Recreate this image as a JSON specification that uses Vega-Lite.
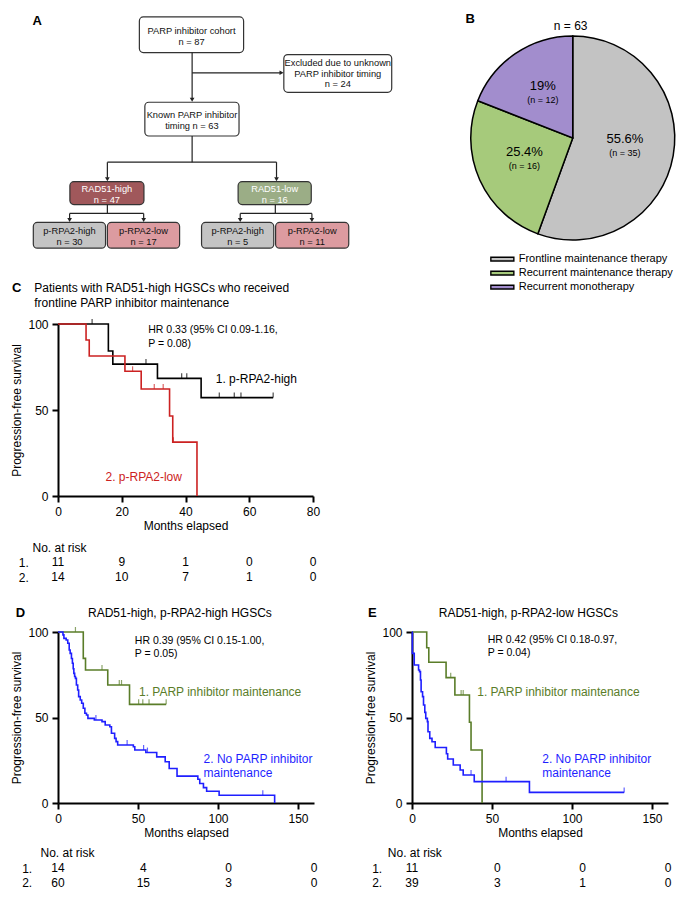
{
"$schema": "https://vega.github.io/schema/vega-lite/v6.json",
"autosize": {"type": "none"},
"padding": {"left": 58, "top": 0, "right": 636, "bottom": 900},
"background": "white",
"config": {
 "font": "Liberation Sans",
 "view": {"stroke": null},
 "axis": {"domainColor": "#000", "domainWidth": 2, "tickColor": "#000", "tickWidth": 2, "tickSize": 6, "labelFontSize": 12, "labelColor": "#000", "labelPadding": 4, "titleFontSize": 12, "titleFontWeight": "normal", "titleColor": "#000", "grid": false, "labelFont": "Liberation Sans", "titleFont": "Liberation Sans"},
 "legend": {"labelFont": "Liberation Sans"},
 "text": {"font": "Liberation Sans", "color": "#000"}
},
"resolve": {"scale": {"color": "independent", "fill": "independent", "shape": "independent"}, "legend": {"color": "independent", "fill": "independent", "shape": "independent"}},
"datasets": {
 "boxes": [
  {"kind": "plain", "x1": 129, "x2": 243, "y1": 17, "y2": 53, "cx": 186, "cy": 31.5, "label": "PARP inhibitor cohort\nn = 87"},
  {"kind": "plain", "x1": 287, "x2": 405, "y1": 55, "y2": 93, "cx": 346, "cy": 63.7, "label": "Excluded due to unknown\nPARP inhibitor timing\nn = 24"},
  {"kind": "plain", "x1": 135, "x2": 238, "y1": 103, "y2": 137, "cx": 186.5, "cy": 116.3, "label": "Known PARP inhibitor\ntiming n = 63"},
  {"kind": "rad51high", "x1": 53, "x2": 134, "y1": 183, "y2": 206, "cx": 93.5, "cy": 190.5, "label": "RAD51-high\nn = 47"},
  {"kind": "rad51low", "x1": 237, "x2": 317, "y1": 183, "y2": 206, "cx": 277, "cy": 190.5, "label": "RAD51-low\nn = 16"},
  {"kind": "rpahigh", "x1": 13, "x2": 92, "y1": 224, "y2": 250, "cx": 52.5, "cy": 232.8, "label": "p-RPA2-high\nn = 30"},
  {"kind": "rpalow", "x1": 94, "x2": 173, "y1": 224, "y2": 250, "cx": 133.5, "cy": 232.8, "label": "p-RPA2-low\nn = 17"},
  {"kind": "rpahigh", "x1": 197, "x2": 276, "y1": 224, "y2": 250, "cx": 236.5, "cy": 232.8, "label": "p-RPA2-high\nn = 5"},
  {"kind": "rpalow", "x1": 278, "x2": 358, "y1": 224, "y2": 250, "cx": 318, "cy": 232.8, "label": "p-RPA2-low\nn = 11"}
 ],
 "segs": [
  {"x": 186.7, "y": 53, "x2": 186.7, "y2": 99},
  {"x": 186.7, "y": 73.3, "x2": 283, "y2": 73.3},
  {"x": 186.7, "y": 137, "x2": 186.7, "y2": 163.3},
  {"x": 94, "y": 163.3, "x2": 279, "y2": 163.3},
  {"x": 94, "y": 163.3, "x2": 94, "y2": 179},
  {"x": 279, "y": 163.3, "x2": 279, "y2": 179},
  {"x": 94, "y": 206, "x2": 94, "y2": 215},
  {"x": 52.7, "y": 215, "x2": 133.7, "y2": 215},
  {"x": 52.7, "y": 215, "x2": 52.7, "y2": 220.5},
  {"x": 133.7, "y": 215, "x2": 133.7, "y2": 220.5},
  {"x": 277.7, "y": 206, "x2": 277.7, "y2": 215},
  {"x": 239.3, "y": 215, "x2": 317.7, "y2": 215},
  {"x": 239.3, "y": 215, "x2": 239.3, "y2": 220.5},
  {"x": 317.7, "y": 215, "x2": 317.7, "y2": 220.5}
 ],
 "heads": [
  {"x": 186.7, "y": 100.5, "dir": "down"},
  {"x": 284.5, "y": 73.3, "dir": "right"},
  {"x": 94, "y": 180.5, "dir": "down"},
  {"x": 279, "y": 180.5, "dir": "down"},
  {"x": 52.7, "y": 221.5, "dir": "down"},
  {"x": 133.7, "y": 221.5, "dir": "down"},
  {"x": 239.3, "y": 221.5, "dir": "down"},
  {"x": 317.7, "y": 221.5, "dir": "down"}
 ],
 "pie": [
  {"cat": "Frontline maintenance therapy", "n": 35, "ord": 1, "pct": "55.6%", "nl": "(n = 35)"},
  {"cat": "Recurrent maintenance therapy", "n": 16, "ord": 2, "pct": "25.4%", "nl": "(n = 16)"},
  {"cat": "Recurrent monotherapy", "n": 12, "ord": 3, "pct": "19%", "nl": "(n = 12)"}
 ],
 "curvesC": [
  {"g": "1", "t": 0, "s": 100}, {"g": "1", "t": 15.8, "s": 84.3}, {"g": "1", "t": 17.2, "s": 76.7}, {"g": "1", "t": 31.2, "s": 68.4}, {"g": "1", "t": 44.9, "s": 57.2}, {"g": "1", "t": 67.5, "s": 57.2},
  {"g": "2", "t": 0, "s": 100}, {"g": "2", "t": 8.8, "s": 90.7}, {"g": "2", "t": 9.8, "s": 81.4}, {"g": "2", "t": 21.0, "s": 72.5}, {"g": "2", "t": 26.1, "s": 62.2}, {"g": "2", "t": 35.0, "s": 46.5}, {"g": "2", "t": 36.0, "s": 31.3}, {"g": "2", "t": 43.6, "s": 0}
 ],
 "censC": [
  {"g": "1", "t": 10.7, "s": 100}, {"g": "1", "t": 27.6, "s": 76.7}, {"g": "1", "t": 38.8, "s": 68.4}, {"g": "1", "t": 40.4, "s": 68.4}, {"g": "1", "t": 50.6, "s": 57.2}, {"g": "1", "t": 55.3, "s": 57.2}, {"g": "1", "t": 57.4, "s": 57.2}, {"g": "1", "t": 67.5, "s": 57.2},
  {"g": "2", "t": 23.4, "s": 72.5}, {"g": "2", "t": 30.2, "s": 62.2}, {"g": "2", "t": 33.0, "s": 62.2}, {"g": "2", "t": 36.2, "s": 31.3}
 ],
 "riskC": [
  {"g": "1.", "t": 0, "n": "11"}, {"g": "1.", "t": 20, "n": "9"}, {"g": "1.", "t": 40, "n": "1"}, {"g": "1.", "t": 60, "n": "0"}, {"g": "1.", "t": 80, "n": "0"},
  {"g": "2.", "t": 0, "n": "14"}, {"g": "2.", "t": 20, "n": "10"}, {"g": "2.", "t": 40, "n": "7"}, {"g": "2.", "t": 60, "n": "1"}, {"g": "2.", "t": 80, "n": "0"}
 ],
 "curvesD": [
  {"g": "1", "t": 0, "s": 100}, {"g": "1", "t": 15.8, "s": 84.6}, {"g": "1", "t": 17.2, "s": 77.8}, {"g": "1", "t": 31.1, "s": 69}, {"g": "1", "t": 44.7, "s": 57.7}, {"g": "1", "t": 67.6, "s": 57.7},
  {"g": "2", "t": 0, "s": 100}, {"g": "2", "t": 3.1, "s": 98.3}, {"g": "2", "t": 3.7, "s": 96.3}, {"g": "2", "t": 5.1, "s": 95.3}, {"g": "2", "t": 6.1, "s": 93.4}, {"g": "2", "t": 7, "s": 89.5}, {"g": "2", "t": 7.6, "s": 87.5}, {"g": "2", "t": 8.4, "s": 84.5}, {"g": "2", "t": 9, "s": 81.7}, {"g": "2", "t": 9.5, "s": 78.5}, {"g": "2", "t": 9.9, "s": 75.8}, {"g": "2", "t": 10.4, "s": 74}, {"g": "2", "t": 10.9, "s": 72.9}, {"g": "2", "t": 11.5, "s": 69}, {"g": "2", "t": 12.3, "s": 66.1}, {"g": "2", "t": 12.9, "s": 62.2}, {"g": "2", "t": 13.9, "s": 60.2}, {"g": "2", "t": 14.8, "s": 58.3}, {"g": "2", "t": 15.8, "s": 55.4}, {"g": "2", "t": 16.8, "s": 52.5}, {"g": "2", "t": 17.8, "s": 51.5}, {"g": "2", "t": 18.7, "s": 49.5}, {"g": "2", "t": 22.7, "s": 48.5}, {"g": "2", "t": 27.5, "s": 47.6}, {"g": "2", "t": 29.5, "s": 45.6}, {"g": "2", "t": 32.4, "s": 44.6}, {"g": "2", "t": 33.4, "s": 40.8}, {"g": "2", "t": 35.4, "s": 37.8}, {"g": "2", "t": 36.3, "s": 35.9}, {"g": "2", "t": 37.3, "s": 33.9}, {"g": "2", "t": 47.1, "s": 32.9}, {"g": "2", "t": 48, "s": 31}, {"g": "2", "t": 54.9, "s": 29.5}, {"g": "2", "t": 61.7, "s": 27}, {"g": "2", "t": 67, "s": 24.1}, {"g": "2", "t": 69.5, "s": 20.2}, {"g": "2", "t": 74.4, "s": 15.7}, {"g": "2", "t": 87.4, "s": 13.9}, {"g": "2", "t": 88.6, "s": 11.4}, {"g": "2", "t": 90.9, "s": 9}, {"g": "2", "t": 92.9, "s": 6.9}, {"g": "2", "t": 100.7, "s": 4.5}, {"g": "2", "t": 135.4, "s": 0}
 ],
 "censD": [
  {"g": "1", "t": 10.9, "s": 100}, {"g": "1", "t": 27.5, "s": 77.8}, {"g": "1", "t": 38.3, "s": 69}, {"g": "1", "t": 39.7, "s": 69}, {"g": "1", "t": 50.4, "s": 57.7}, {"g": "1", "t": 53, "s": 57.7}, {"g": "1", "t": 56.9, "s": 57.7}, {"g": "1", "t": 67.6, "s": 57.7},
  {"g": "2", "t": 23.7, "s": 48.5}, {"g": "2", "t": 43.2, "s": 33.9}, {"g": "2", "t": 53.5, "s": 31}, {"g": "2", "t": 55.9, "s": 29.5}, {"g": "2", "t": 128, "s": 4.5}
 ],
 "riskD": [
  {"g": "1.", "t": 0, "n": "14"}, {"g": "1.", "t": 50, "n": "4"}, {"g": "1.", "t": 100, "n": "0"}, {"g": "1.", "t": 150, "n": "0"},
  {"g": "2.", "t": 0, "n": "60"}, {"g": "2.", "t": 50, "n": "15"}, {"g": "2.", "t": 100, "n": "3"}, {"g": "2.", "t": 150, "n": "0"}
 ],
 "curvesE": [
  {"g": "1", "t": 0, "s": 100}, {"g": "1", "t": 9.2, "s": 90.8}, {"g": "1", "t": 10.5, "s": 82.3}, {"g": "1", "t": 21.3, "s": 73.3}, {"g": "1", "t": 26.8, "s": 63.2}, {"g": "1", "t": 35.9, "s": 47.2}, {"g": "1", "t": 36.9, "s": 31}, {"g": "1", "t": 43.8, "s": 0},
  {"g": "2", "t": 0, "s": 100}, {"g": "2", "t": 0.2, "s": 87.5}, {"g": "2", "t": 1.4, "s": 80.7}, {"g": "2", "t": 4.1, "s": 77.8}, {"g": "2", "t": 4.7, "s": 76.8}, {"g": "2", "t": 5.3, "s": 71.9}, {"g": "2", "t": 5.7, "s": 65.1}, {"g": "2", "t": 6.6, "s": 62.2}, {"g": "2", "t": 7.2, "s": 57.3}, {"g": "2", "t": 8.0, "s": 53}, {"g": "2", "t": 8.6, "s": 49.5}, {"g": "2", "t": 9.6, "s": 47.6}, {"g": "2", "t": 10, "s": 41.7}, {"g": "2", "t": 11.1, "s": 37.8}, {"g": "2", "t": 12.5, "s": 35.8}, {"g": "2", "t": 14.5, "s": 32.5}, {"g": "2", "t": 21.5, "s": 28.8}, {"g": "2", "t": 22.3, "s": 25.7}, {"g": "2", "t": 25.8, "s": 22.2}, {"g": "2", "t": 30.1, "s": 19.3}, {"g": "2", "t": 32, "s": 16.4}, {"g": "2", "t": 38.9, "s": 12.5}, {"g": "2", "t": 73.4, "s": 6.2}, {"g": "2", "t": 132.6, "s": 6.2}
 ],
 "censE": [
  {"g": "1", "t": 24.2, "s": 73.3}, {"g": "1", "t": 30.7, "s": 63.2}, {"g": "1", "t": 32.0, "s": 63.2},
  {"g": "2", "t": 36.9, "s": 16.4}, {"g": "2", "t": 58.8, "s": 12.5}, {"g": "2", "t": 132.6, "s": 6.2}
 ],
 "riskE": [
  {"g": "1.", "t": 0, "n": "11"}, {"g": "1.", "t": 50, "n": "0"}, {"g": "1.", "t": 100, "n": "0"}, {"g": "1.", "t": 150, "n": "0"},
  {"g": "2.", "t": 0, "n": "39"}, {"g": "2.", "t": 50, "n": "3"}, {"g": "2.", "t": 100, "n": "1"}, {"g": "2.", "t": 150, "n": "0"}
 ]
},
"columns": 2,
"align": "each",
"bounds": "flush",
"spacing": {"row": 46, "column": 98},
"concat": [
 {
  "width": 256, "height": 278,
  "layer": [
   {"data": {"name": "boxes"}, "mark": {"type": "rect", "stroke": "#333", "strokeWidth": 1.2, "cornerRadius": 4},
    "encoding": {
     "x": {"field": "x1", "type": "quantitative", "scale": {"domain": [58, 314]}, "axis": null},
     "x2": {"field": "x2"},
     "y": {"field": "y1", "type": "quantitative", "scale": {"domain": [0, 278], "reverse": true}, "axis": null},
     "y2": {"field": "y2"},
     "fill": {"field": "kind", "type": "nominal", "scale": {"domain": ["plain", "rad51high", "rad51low", "rpahigh", "rpalow"], "range": ["#ffffff", "#a0585b", "#9bad86", "#c4c4c4", "#dc9ba0"]}, "legend": null}
    }},
   {"data": {"name": "segs"}, "mark": {"type": "rule", "stroke": "#222", "strokeWidth": 1.2},
    "encoding": {"x": {"field": "x", "type": "quantitative"}, "x2": {"field": "x2"}, "y": {"field": "y", "type": "quantitative"}, "y2": {"field": "y2"}}},
   {"data": {"name": "heads"}, "mark": {"type": "point", "filled": true, "size": 22, "color": "#222", "opacity": 1},
    "encoding": {"x": {"field": "x", "type": "quantitative"}, "y": {"field": "y", "type": "quantitative"},
     "shape": {"field": "dir", "type": "nominal", "scale": {"domain": ["down", "right"], "range": ["triangle-down", "triangle-right"]}, "legend": null}}},
   {"data": {"name": "boxes"}, "mark": {"type": "text", "fontSize": 9.3, "lineBreak": "\n", "lineHeight": 10.5, "baseline": "middle", "align": "center"},
    "encoding": {"x": {"field": "cx", "type": "quantitative"}, "y": {"field": "cy", "type": "quantitative"}, "text": {"field": "label"},
     "color": {"field": "kind", "type": "nominal", "scale": {"domain": ["plain", "rad51high", "rad51low", "rpahigh", "rpalow"], "range": ["#111111", "#ffffff", "#ffffff", "#111111", "#111111"]}, "legend": null}}},
   {"data": {"values": [{"label": "A"}]}, "mark": {"type": "text", "fontSize": 13, "fontWeight": "bold", "align": "left", "baseline": "middle"},
    "encoding": {"x": {"datum": 12}, "y": {"datum": 21.2}, "text": {"field": "label"}}}
  ]
 },
 {
  "width": 282, "height": 278,
  "layer": [
   {"data": {"name": "pie"}, "mark": {"type": "arc", "radius": 102, "stroke": "#000", "strokeWidth": 1.5},
    "encoding": {
     "x": {"datum": 571, "type": "quantitative", "scale": {"domain": [412, 694]}, "axis": null},
     "y": {"datum": 139, "type": "quantitative", "scale": {"domain": [0, 278], "reverse": true}, "axis": null},
     "theta": {"field": "n", "type": "quantitative", "stack": true},
     "order": {"field": "ord", "type": "quantitative"},
     "color": {"field": "cat", "type": "nominal", "scale": {"domain": ["Frontline maintenance therapy", "Recurrent maintenance therapy", "Recurrent monotherapy"], "range": ["#c3c3c3", "#a6ca7b", "#a28dcd"]},
      "legend": {"title": null, "orient": "none", "legendX": 81.85, "legendY": 250.65, "symbolType": "M-1.5,-0.25H1.5V0.25H-1.5Z", "symbolSize": 235, "symbolStrokeColor": "#000", "symbolStrokeWidth": 1.4, "symbolOpacity": 1, "rowPadding": 0, "labelFontSize": 11, "labelOffset": 7.85, "labelColor": "#000", "padding": 0}}
    }},
   {"data": {"name": "pie"}, "mark": {"type": "text", "radius": 53, "fontSize": 13, "dy": -8},
    "encoding": {"x": {"datum": 571}, "y": {"datum": 139}, "theta": {"field": "n", "type": "quantitative", "stack": true}, "order": {"field": "ord", "type": "quantitative"}, "text": {"field": "pct"}}},
   {"data": {"name": "pie"}, "mark": {"type": "text", "radius": 53, "fontSize": 9, "dy": 6},
    "encoding": {"x": {"datum": 571}, "y": {"datum": 139}, "theta": {"field": "n", "type": "quantitative", "stack": true}, "order": {"field": "ord", "type": "quantitative"}, "text": {"field": "nl"}}},
   {"data": {"values": [{"label": "B"}]}, "mark": {"type": "text", "fontSize": 13, "fontWeight": "bold", "align": "left", "baseline": "middle"},
    "encoding": {"x": {"datum": 457}, "y": {"datum": 19.5}, "text": {"field": "label"}}},
   {"data": {"values": [{"label": "n = 63"}]}, "mark": {"type": "text", "fontSize": 12, "baseline": "middle"},
    "encoding": {"x": {"datum": 568.8}, "y": {"datum": 26.2}, "text": {"field": "label"}}}
  ]
 },
 {
  "width": 255, "height": 172,
  "layer": [
   {"data": {"name": "curvesC"}, "mark": {"type": "line", "interpolate": "step-after", "strokeWidth": 1.6},
    "encoding": {
     "x": {"field": "t", "type": "quantitative", "scale": {"domain": [0, 80]}, "axis": {"title": "Months elapsed", "values": [0, 20, 40, 60, 80], "labelFlush": false, "titlePadding": 3}},
     "y": {"field": "s", "type": "quantitative", "scale": {"domain": [0, 100]}, "axis": {"title": "Progression-free survival", "values": [0, 50, 100], "titlePadding": 4}},
     "color": {"field": "g", "type": "nominal", "scale": {"domain": ["1", "2"], "range": ["#000000", "#cc2222"]}, "legend": null}
    }},
   {"data": {"name": "censC"}, "mark": {"type": "tick", "orient": "vertical", "size": 5, "thickness": 1.2, "yOffset": -2.5},
    "encoding": {"x": {"field": "t", "type": "quantitative"}, "y": {"field": "s", "type": "quantitative"}, "color": {"field": "g", "type": "nominal"}}},
   {"data": {"values": [{"label": "C"}]}, "mark": {"type": "text", "fontSize": 13, "fontWeight": "bold", "align": "left", "baseline": "middle"},
    "encoding": {"x": {"datum": -14.4}, "y": {"datum": 120.9}, "text": {"field": "label"}}},
   {"data": {"values": [{"label": "Patients with RAD51-high HGSCs who received\nfrontline PARP inhibitor maintenance"}]}, "mark": {"type": "text", "fontSize": 12, "align": "left", "baseline": "middle", "lineBreak": "\n", "lineHeight": 15},
    "encoding": {"x": {"datum": -7.44}, "y": {"datum": 120.9}, "text": {"field": "label"}}},
   {"data": {"values": [{"label": "HR 0.33 (95% CI 0.09-1.16,\nP = 0.08)"}]}, "mark": {"type": "text", "fontSize": 10.5, "align": "left", "baseline": "middle", "lineBreak": "\n", "lineHeight": 13.5},
    "encoding": {"x": {"datum": 28.3}, "y": {"datum": 96.5}, "text": {"field": "label"}}},
   {"data": {"values": [{"label": "1. p-RPA2-high"}]}, "mark": {"type": "text", "fontSize": 12, "align": "left", "baseline": "middle"},
    "encoding": {"x": {"datum": 49.5}, "y": {"datum": 67.8}, "text": {"field": "label"}}},
   {"data": {"values": [{"label": "2. p-RPA2-low"}]}, "mark": {"type": "text", "fontSize": 12, "align": "left", "baseline": "middle", "color": "#cc2222"},
    "encoding": {"x": {"datum": 14.9}, "y": {"datum": 11.3}, "text": {"field": "label"}}}
  ]
 },
 {"width": 1, "height": 1, "data": {"values": [{}]}, "mark": {"type": "point", "opacity": 0}, "encoding": {}},
 {
  "width": 255, "height": 44,
  "data": {"name": "riskC"},
  "mark": {"type": "text", "fontSize": 12, "baseline": "middle"},
  "encoding": {
   "x": {"field": "t", "type": "quantitative", "scale": {"domain": [0, 80]}, "axis": null},
   "y": {"field": "g", "type": "nominal", "scale": {"type": "point", "padding": 0, "domain": ["1.", "2."], "range": [20, 35]},
    "axis": {"title": "No. at risk", "titleAngle": 0, "titleAlign": "left", "titleBaseline": "middle", "titleX": -26, "titleY": 5.7, "labelAlign": "left", "labelPadding": 39.7, "ticks": false, "tickSize": 0, "domain": false, "labelFontSize": 12, "titleFontSize": 12}},
   "text": {"field": "n", "type": "nominal"}
  }
 },
 {"width": 1, "height": 1, "data": {"values": [{}]}, "mark": {"type": "point", "opacity": 0}, "encoding": {}},
 {
  "width": 256, "height": 171,
  "layer": [
   {"data": {"name": "curvesD"}, "mark": {"type": "line", "interpolate": "step-after", "strokeWidth": 1.6},
    "encoding": {
     "x": {"field": "t", "type": "quantitative", "scale": {"domain": [0, 150]}, "axis": {"title": "Months elapsed", "values": [0, 50, 100, 150], "labelFlush": false, "titlePadding": 3}},
     "y": {"field": "s", "type": "quantitative", "scale": {"domain": [0, 100]}, "axis": {"title": "Progression-free survival", "values": [0, 50, 100], "titlePadding": 4}},
     "color": {"field": "g", "type": "nominal", "scale": {"domain": ["1", "2"], "range": ["#5a7d29", "#1f1fff"]}, "legend": null}
    }},
   {"data": {"name": "censD"}, "mark": {"type": "tick", "orient": "vertical", "size": 5, "thickness": 1.2, "yOffset": -2.5},
    "encoding": {"x": {"field": "t", "type": "quantitative"}, "y": {"field": "s", "type": "quantitative"}, "color": {"field": "g", "type": "nominal"}}},
   {"data": {"values": [{"label": "D"}]}, "mark": {"type": "text", "fontSize": 13, "fontWeight": "bold", "align": "left", "baseline": "middle"},
    "encoding": {"x": {"datum": -26.4}, "y": {"datum": 110.9}, "text": {"field": "label"}}},
   {"data": {"values": [{"label": "RAD51-high, p-RPA2-high HGSCs"}]}, "mark": {"type": "text", "fontSize": 12, "align": "center", "baseline": "middle"},
    "encoding": {"x": {"datum": 76.2}, "y": {"datum": 110.9}, "text": {"field": "label"}}},
   {"data": {"values": [{"label": "HR 0.39 (95% CI 0.15-1.00,\nP = 0.05)"}]}, "mark": {"type": "text", "fontSize": 10.5, "align": "left", "baseline": "middle", "lineBreak": "\n", "lineHeight": 12.5},
    "encoding": {"x": {"datum": 48.0}, "y": {"datum": 94.7}, "text": {"field": "label"}}},
   {"data": {"values": [{"label": "1. PARP inhibitor maintenance"}]}, "mark": {"type": "text", "fontSize": 12, "align": "left", "baseline": "middle", "color": "#5a7d29"},
    "encoding": {"x": {"datum": 50.6}, "y": {"datum": 65.1}, "text": {"field": "label"}}},
   {"data": {"values": [{"label": "2. No PARP inhibitor\nmaintenance"}]}, "mark": {"type": "text", "fontSize": 12, "align": "left", "baseline": "middle", "lineBreak": "\n", "lineHeight": 14.3, "color": "#1f1fff"},
    "encoding": {"x": {"datum": 91.0}, "y": {"datum": 25.7}, "text": {"field": "label"}}}
  ]
 },
 {
  "width": 256, "height": 171,
  "layer": [
   {"data": {"name": "curvesE"}, "mark": {"type": "line", "interpolate": "step-after", "strokeWidth": 1.6},
    "encoding": {
     "x": {"field": "t", "type": "quantitative", "scale": {"domain": [0, 150]}, "axis": {"title": "Months elapsed", "values": [0, 50, 100, 150], "labelFlush": false, "titlePadding": 3}},
     "y": {"field": "s", "type": "quantitative", "scale": {"domain": [0, 100]}, "axis": {"title": "Progression-free survival", "values": [0, 50, 100], "titlePadding": 4}},
     "color": {"field": "g", "type": "nominal", "scale": {"domain": ["1", "2"], "range": ["#5a7d29", "#1f1fff"]}, "legend": null}
    }},
   {"data": {"name": "censE"}, "mark": {"type": "tick", "orient": "vertical", "size": 5, "thickness": 1.2, "yOffset": -2.5},
    "encoding": {"x": {"field": "t", "type": "quantitative"}, "y": {"field": "s", "type": "quantitative"}, "color": {"field": "g", "type": "nominal"}}},
   {"data": {"values": [{"label": "E"}]}, "mark": {"type": "text", "fontSize": 13, "fontWeight": "bold", "align": "left", "baseline": "middle"},
    "encoding": {"x": {"datum": -27.5}, "y": {"datum": 110.9}, "text": {"field": "label"}}},
   {"data": {"values": [{"label": "RAD51-high, p-RPA2-low  HGSCs"}]}, "mark": {"type": "text", "fontSize": 12, "align": "center", "baseline": "middle"},
    "encoding": {"x": {"datum": 72.7}, "y": {"datum": 110.9}, "text": {"field": "label"}}},
   {"data": {"values": [{"label": "HR 0.42 (95% CI 0.18-0.97,\nP = 0.04)"}]}, "mark": {"type": "text", "fontSize": 10.5, "align": "left", "baseline": "middle", "lineBreak": "\n", "lineHeight": 12.5},
    "encoding": {"x": {"datum": 47.3}, "y": {"datum": 95.3}, "text": {"field": "label"}}},
   {"data": {"values": [{"label": "1. PARP inhibitor maintenance"}]}, "mark": {"type": "text", "fontSize": 12, "align": "left", "baseline": "middle", "color": "#5a7d29"},
    "encoding": {"x": {"datum": 40.8}, "y": {"datum": 65.1}, "text": {"field": "label"}}},
   {"data": {"values": [{"label": "2. No PARP inhibitor\nmaintenance"}]}, "mark": {"type": "text", "fontSize": 12, "align": "left", "baseline": "middle", "lineBreak": "\n", "lineHeight": 14.3, "color": "#1f1fff"},
    "encoding": {"x": {"datum": 81.4}, "y": {"datum": 25.7}, "text": {"field": "label"}}}
  ]
 },
 {
  "width": 256, "height": 40,
  "data": {"name": "riskD"},
  "mark": {"type": "text", "fontSize": 12, "baseline": "middle"},
  "encoding": {
   "x": {"field": "t", "type": "quantitative", "scale": {"domain": [0, 150]}, "axis": null},
   "y": {"field": "g", "type": "nominal", "scale": {"type": "point", "padding": 0, "domain": ["1.", "2."], "range": [19.3, 33.7]},
    "axis": {"title": "No. at risk", "titleAngle": 0, "titleAlign": "left", "titleBaseline": "middle", "titleX": -18, "titleY": 3.7, "labelAlign": "left", "labelPadding": 36.3, "ticks": false, "tickSize": 0, "domain": false, "labelFontSize": 12, "titleFontSize": 12}},
   "text": {"field": "n", "type": "nominal"}
  }
 },
 {
  "width": 256, "height": 40,
  "data": {"name": "riskE"},
  "mark": {"type": "text", "fontSize": 12, "baseline": "middle"},
  "encoding": {
   "x": {"field": "t", "type": "quantitative", "scale": {"domain": [0, 150]}, "axis": null},
   "y": {"field": "g", "type": "nominal", "scale": {"type": "point", "padding": 0, "domain": ["1.", "2."], "range": [19.3, 33.7]},
    "axis": {"title": "No. at risk", "titleAngle": 0, "titleAlign": "left", "titleBaseline": "middle", "titleX": -24.7, "titleY": 3.7, "labelAlign": "left", "labelPadding": 40.3, "ticks": false, "tickSize": 0, "domain": false, "labelFontSize": 12, "titleFontSize": 12}},
   "text": {"field": "n", "type": "nominal"}
  }
 }
]
}
